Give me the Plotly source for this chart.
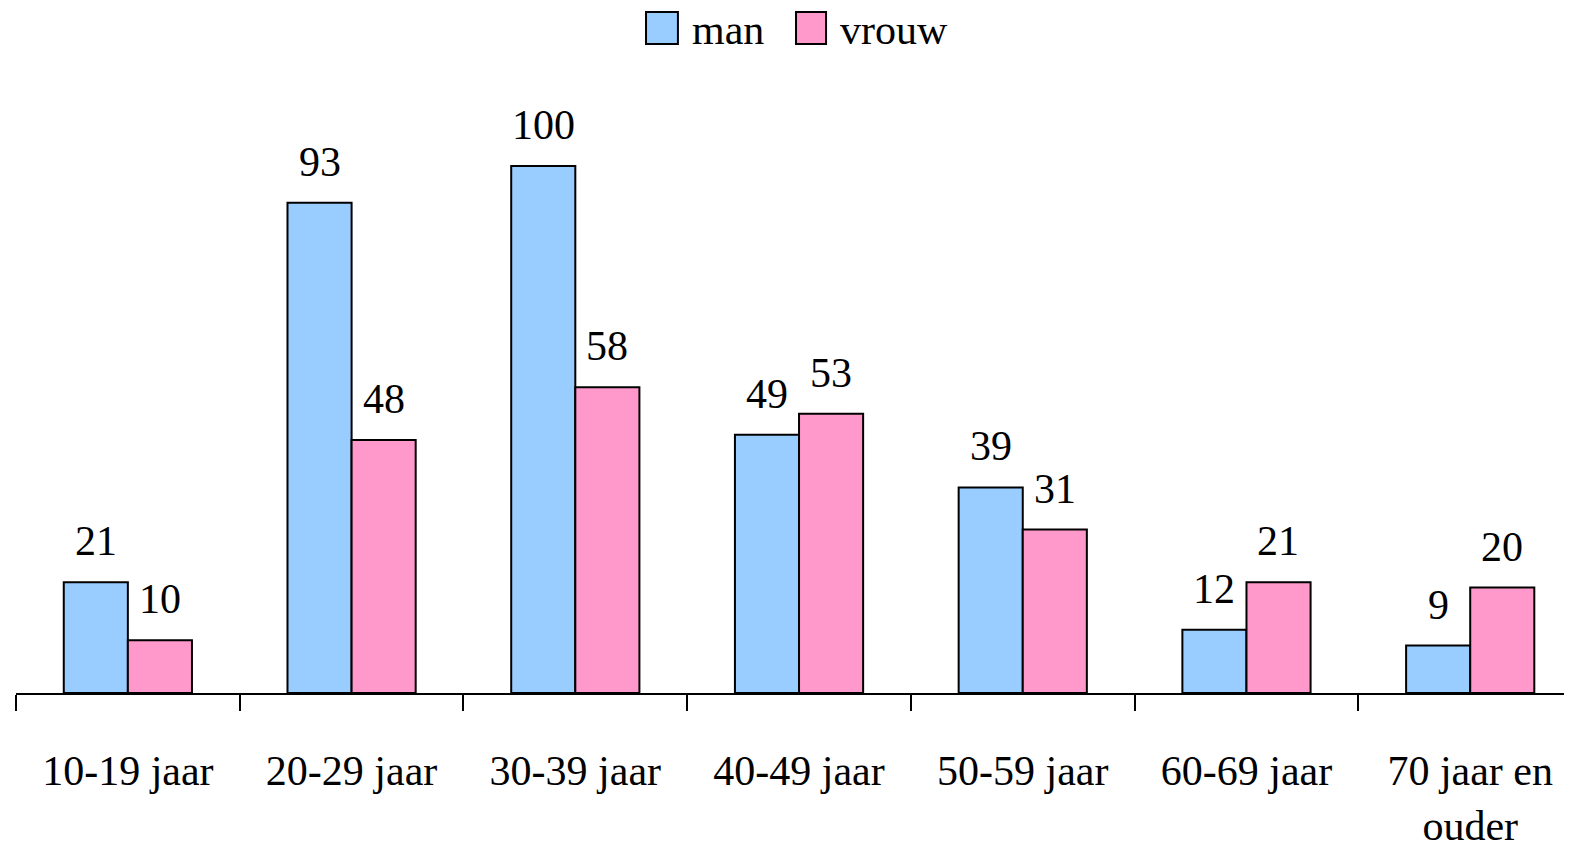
import plotly.graph_objects as go

categories = ["10-19 jaar", "20-29 jaar", "30-39 jaar", "40-49 jaar",
              "50-59 jaar", "60-69 jaar", "70 jaar en<br>ouder"]
man = [21, 93, 100, 49, 39, 12, 9]
vrouw = [10, 48, 58, 53, 31, 21, 20]
series_names = ["man", "vrouw"]
colors = ["#99CCFF", "#FF99CC"]

FONT = "Liberation Serif"
FS = 42

fig = go.Figure()
for name, vals, col in zip(series_names, [man, vrouw], colors):
    fig.add_trace(go.Bar(
        x=categories, y=vals, name=name,
        marker=dict(color=col, line=dict(color="black", width=2)),
        showlegend=False, hoverinfo="x+y",
    ))

annotations = []
for vals, xs in [(man, -32), (vrouw, 32)]:
    for c, v in zip(categories, vals):
        annotations.append(dict(
            x=c, y=v, xref="x", yref="y", text=str(v), showarrow=False,
            xanchor="center", yanchor="bottom", xshift=xs, yshift=16,
            font=dict(family=FONT, size=FS, color="black"),
        ))

# custom legend (swatches + labels)
shapes = []
for (x0, x1), col in zip([(0.4049, 0.4254), (0.5013, 0.5206)], colors):
    shapes.append(dict(type="rect", xref="paper", yref="paper",
                       x0=x0, x1=x1, y0=1.0763, y1=1.1294,
                       fillcolor=col, line=dict(color="black", width=2)))
for xl, name in zip([0.4332, 0.5283], series_names):
    annotations.append(dict(
        x=xl, y=1.0995, xref="paper", yref="paper", text=name, showarrow=False,
        xanchor="left", yanchor="middle",
        font=dict(family=FONT, size=FS, color="black"),
    ))

fig.update_layout(
    width=1564, height=845,
    margin=dict(l=8, r=0, t=82, b=160),
    paper_bgcolor="white", plot_bgcolor="white",
    barmode="group", bargap=0.427, bargroupgap=0,
    font=dict(family=FONT, size=FS, color="black"),
    annotations=annotations, shapes=shapes,
    xaxis=dict(
        range=[-0.5, 6.455], showline=True, linecolor="black", linewidth=2,
        ticks="outside", ticklen=16, tickwidth=2, tickcolor="black",
        tickson="boundaries", showgrid=False, zeroline=False,
        tickfont=dict(family=FONT, size=FS, color="black"),
        ticklabelstandoff=40,
    ),
    yaxis=dict(range=[0, 114.4], visible=False, showgrid=False, zeroline=False),
)

fig.write_html("out.html")
